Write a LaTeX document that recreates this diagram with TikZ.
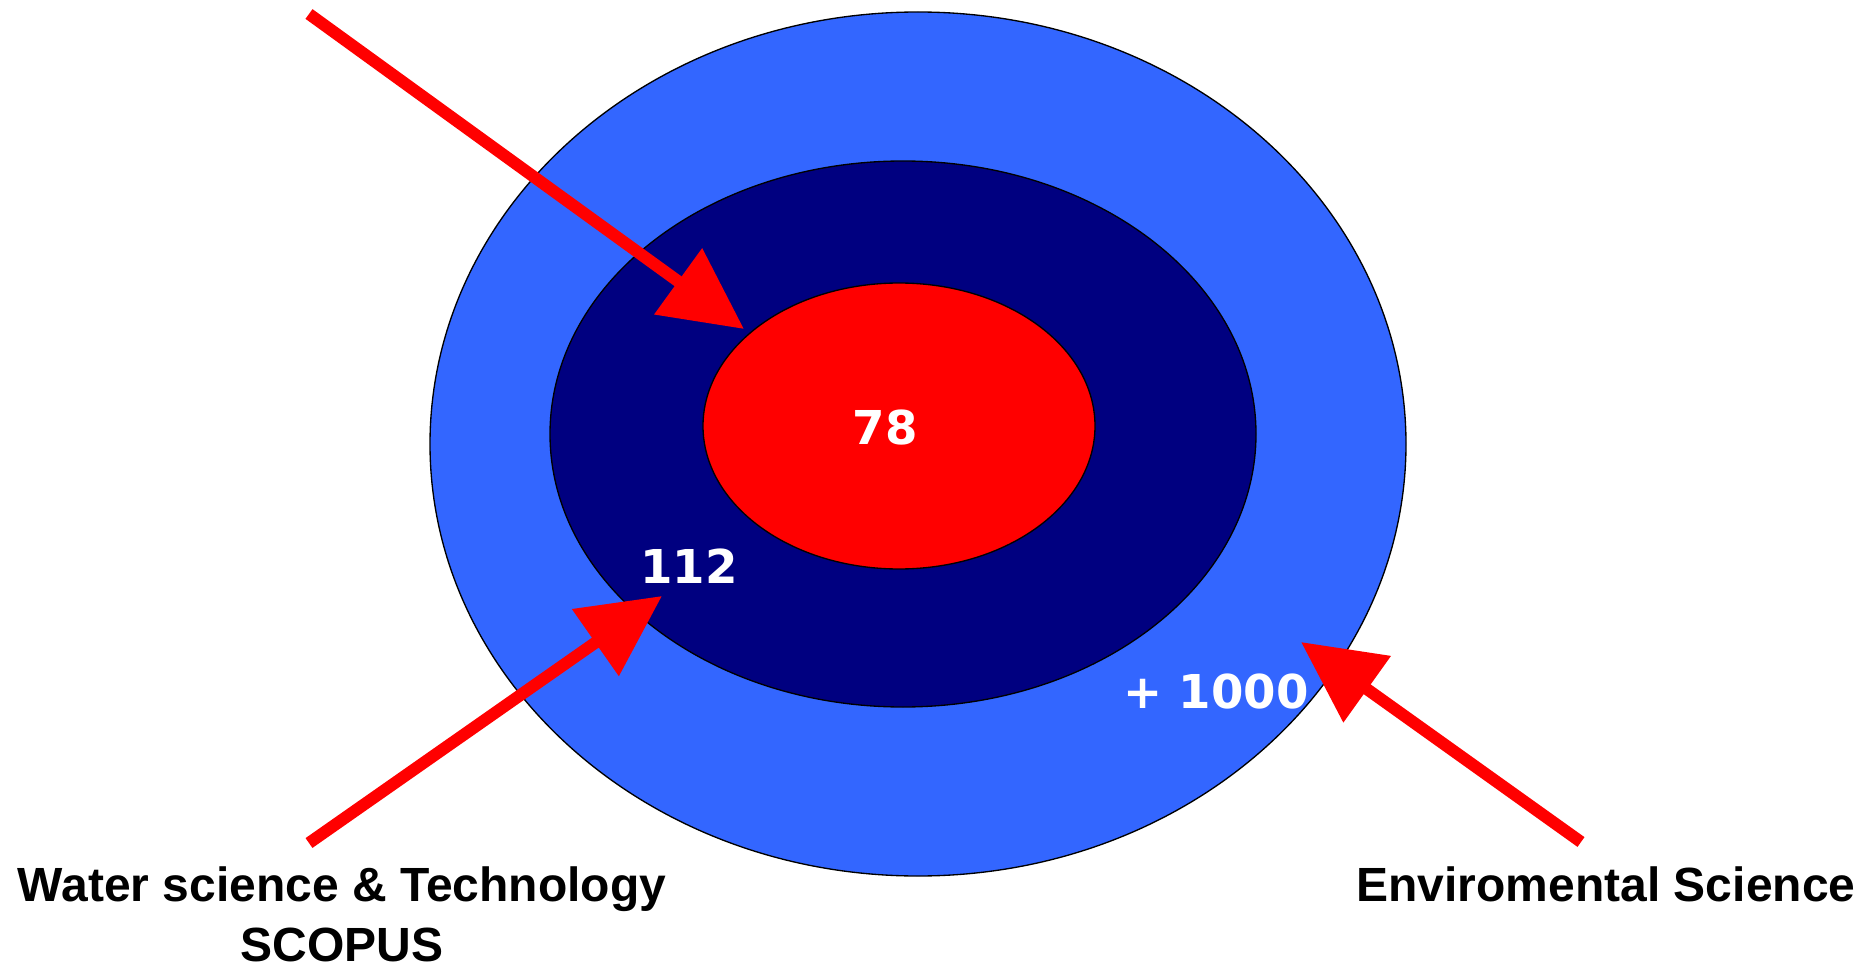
\documentclass[tikz,border=0pt]{standalone}
\usepackage{fontspec}
\setmainfont{Liberation Sans}
\newfontfamily\numfont{DejaVu Sans}
\usetikzlibrary{arrows.meta, shapes.geometric}

\definecolor{ringblue}{HTML}{3366FF}
\definecolor{ringnavy}{HTML}{000080}
\definecolor{ringred}{HTML}{FF0000}

\begin{document}
\begin{tikzpicture}[
    x=0.75pt, y=-0.75pt,
    ring/.style   ={ellipse, draw=black, line width=1pt, inner sep=0pt},
    count/.style  ={text=white, font=\numfont\bfseries\fontsize{35}{40}\selectfont},
    caption/.style={align=center, inner sep=0pt, font=\bfseries\fontsize{36}{45}\selectfont},
    pointer/.style={-{Triangle[length=61pt, width=59pt]}, line width=9pt, ringred},
]
\useasboundingbox (0,0) rectangle (1875,970);

% ── Rings ───────────────────────────────────────────────────────────────
\node[ring, fill=ringblue, minimum width=732pt,   minimum height=648pt]   (outer) at (918,444) {};
\node[ring, fill=ringnavy, minimum width=529.5pt, minimum height=409.5pt] (mid)   at (903,434) {};
\node[ring, fill=ringred,  minimum width=294pt,   minimum height=214.5pt] (core)  at (899,426) {};

% ── Counts ──────────────────────────────────────────────────────────────
\node[count] (n78)   at (885,428)  {78};
\node[count] (n112)  at (689,566)  {112};
\node[count] (n1000) at (1216,692) {+ 1000};

% ── Captions ────────────────────────────────────────────────────────────
\node[caption] (wst) at (342,914) {Water science \& Technology\\SCOPUS};
\node[caption] (env) at (1606,884) {Enviromental Science};

% ── Arrows ──────────────────────────────────────────────────────────────
\coordinate (topstart) at (309,14);
\coordinate (topend)   at (744,329);
\coordinate (wststart) at (309,843);
\coordinate (wstend)   at (662,596);
\coordinate (envstart) at (1581,842);
\coordinate (envend)   at (1301,642);

\draw[pointer] (topstart) -- (topend);
\draw[pointer] (wststart) -- (wstend);
\draw[pointer] (envstart) -- (envend);

\end{tikzpicture}
\end{document}
